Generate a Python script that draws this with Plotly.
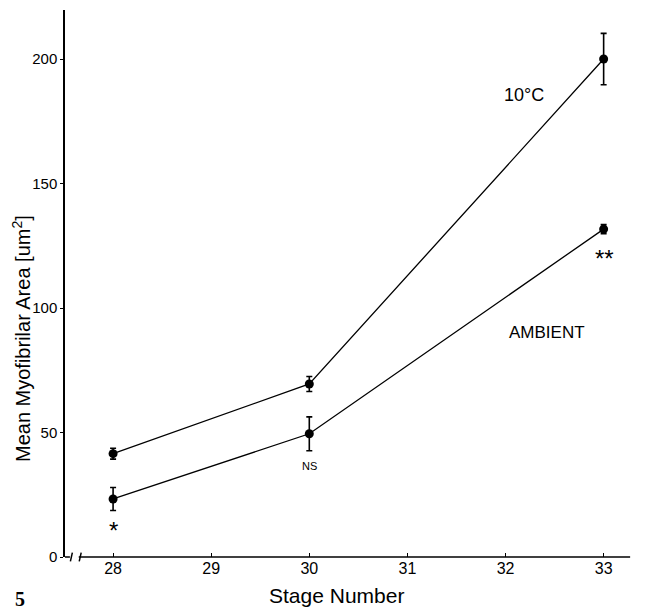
import plotly.graph_objects as go

stages = [28, 30, 33]
cold_mean = [41.5, 69.5, 200.0]
cold_err = [2.2, 3.0, 10.3]
amb_mean = [23.3, 49.5, 131.7]
amb_err = [4.6, 6.8, 1.8]
x_ticks = [28, 29, 30, 31, 32, 33]
y_ticks = [0, 50, 100, 150, 200]

FONT = "Liberation Sans, Arial, sans-serif"

fig = go.Figure()
for mean, err in [(cold_mean, cold_err), (amb_mean, amb_err)]:
    fig.add_trace(go.Scatter(
        x=stages, y=mean, mode="lines+markers",
        line=dict(color="black", width=1.3),
        marker=dict(color="black", size=9),
        error_y=dict(type="data", array=err, visible=True, color="black",
                     thickness=1.6, width=3),
        showlegend=False, cliponaxis=False,
    ))

x0, x1 = 27.51, 33.34
# plot area in window: left 65, right 637, top 10, bottom 557 (page has 8px body margin)
fig.update_layout(
    width=656, height=613,
    margin=dict(l=57, r=27, t=2, b=64),
    plot_bgcolor="white", paper_bgcolor="white",
    font=dict(family=FONT, color="black", size=15),
    xaxis=dict(range=[x0, x1], tickvals=x_ticks, ticks="inside", ticklen=4,
               tickcolor="black", showgrid=False, zeroline=False, showline=False,
               tickfont=dict(size=16)),
    yaxis=dict(range=[0, 219.7], tickvals=y_ticks, ticks="outside", ticklen=3,
               tickcolor="black", showgrid=False, zeroline=False, showline=True,
               linecolor="black", linewidth=1.5, tickfont=dict(size=15)),
)

# x axis line with break
fig.add_shape(type="line", xref="x", yref="paper", x0=x0, x1=27.56, y0=0, y1=0,
              line=dict(color="black", width=1.5))
fig.add_shape(type="line", xref="x", yref="paper", x0=27.65, x1=33.27, y0=0, y1=0,
              line=dict(color="black", width=1.5))
for bx in [27.575, 27.665]:
    fig.add_shape(type="line", xref="x", yref="paper", x0=bx - 0.01, x1=bx + 0.01,
                  y0=-0.008, y1=0.008, line=dict(color="black", width=1.5))

ann = [
    (32.19, 185.5, "10°C", 18),
    (32.42, 90, "AMBIENT", 17),
    (33.01, 120, "**", 24),
    (30.0, 36.7, "NS", 11),
    (28.0, 10.8, "*", 24),
]
for ax_, ay_, t, s in ann:
    fig.add_annotation(x=ax_, y=ay_, text=t, showarrow=False, font=dict(size=s),
                       xanchor="center", yanchor="middle")

fig.add_annotation(xref="paper", yref="paper", x=(22 - 65) / 572, y=(557 - 339) / 547,
                   text="Mean Myofibrilar Area [um<sup>2</sup>]", textangle=-90,
                   showarrow=False, font=dict(size=20), xanchor="center", yanchor="middle")
fig.add_annotation(xref="paper", yref="paper", x=(336 - 65) / 572, y=(557 - 595) / 547,
                   text="Stage Number", showarrow=False, font=dict(size=21),
                   xanchor="center", yanchor="middle")
fig.add_annotation(xref="paper", yref="paper", x=(20 - 65) / 572, y=(557 - 599) / 547,
                   text="<b>5</b>", showarrow=False, xanchor="center", yanchor="middle",
                   font=dict(size=20, family="Liberation Serif, Times New Roman, serif"))

fig.write_html("out.html")
